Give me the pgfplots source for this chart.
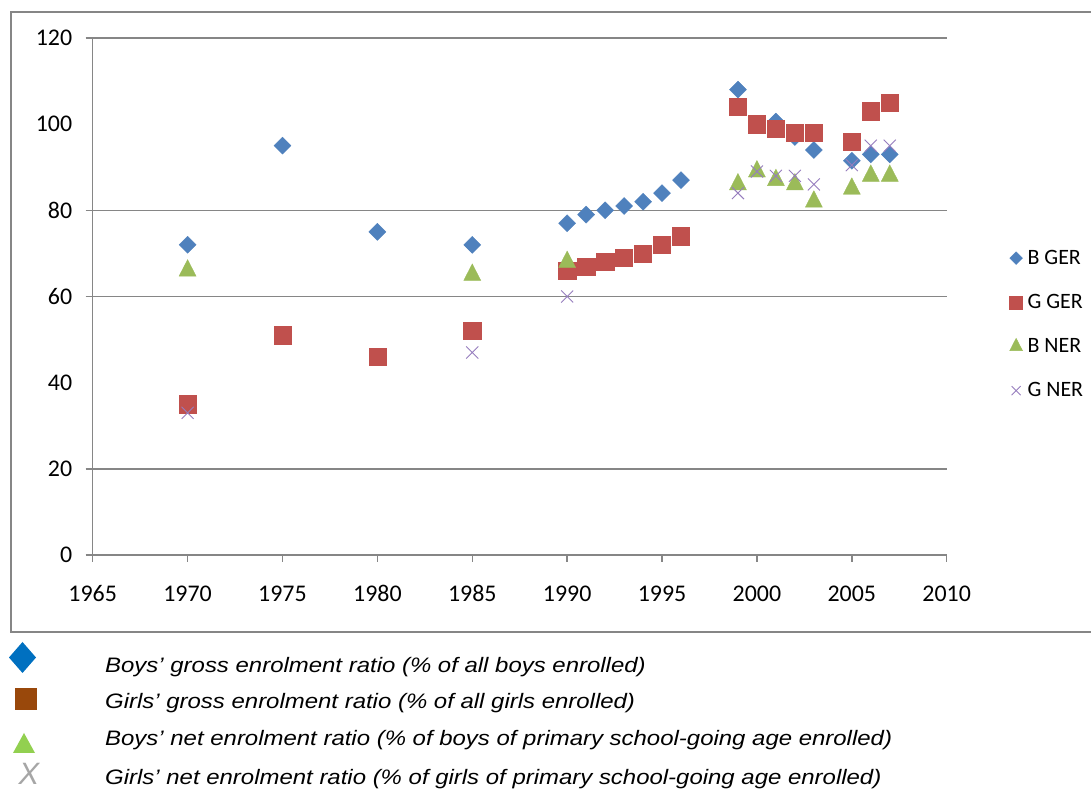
\documentclass[border=0pt]{standalone}
\usepackage{fontspec}
\setmainfont{Liberation Sans}
\newfontfamily\carlito{Carlito}
\newfontfamily\keyfont[FakeStretch=1.145]{Liberation Sans}
\usepackage{pgfplots}
\pgfplotsset{compat=1.18}

\definecolor{bger}{RGB}{79,129,189}
\definecolor{gger}{RGB}{192,80,77}
\definecolor{bner}{RGB}{155,187,89}
\definecolor{gner}{RGB}{150,125,190}
\definecolor{axgray}{RGB}{134,134,134}
\definecolor{kblue}{RGB}{0,112,192}
\definecolor{kbrown}{RGB}{153,72,11}
\definecolor{kgreen}{RGB}{146,208,80}
\definecolor{kgray}{RGB}{166,166,166}

\begin{document}
\begin{tikzpicture}[x=1bp,y=1bp]
\useasboundingbox (0,0) rectangle (1091,792);
\fill[white] (0,0) rectangle (1091,792);
\draw[axgray, line width=2bp] (11,780) rectangle (1100,160);
\begin{axis}[
  at={(92.7bp,237bp)}, anchor=south west,
  scale only axis, width=854bp, height=517bp,
  xmin=1965, xmax=2010, ymin=0, ymax=120,
  axis x line*=bottom, axis y line*=left,
  axis line style={axgray, line width=1.5bp, -},
  xtick={1965,1970,...,2010},
  ytick={0,20,60,80,120},
  extra y ticks={40,100},
  extra y tick style={grid=none, major tick style={draw=none}},
  ymajorgrids, grid style={axgray, line width=1.5bp},
  tick align=outside, major tick length=7bp,
  tick style={axgray, line width=1.5bp},
  scaled ticks=false,
  /pgf/number format/1000 sep={},
  /pgf/number format/assume math mode=true,
  tick label style={font=\carlito\fontsize{24}{28}\selectfont, black},
  xticklabel style={yshift=-20bp},
  yticklabel style={xshift=-10bp},
  legend style={draw=none, fill=none, at={(1.070,0.446)}, anchor=west,
    font=\carlito\fontsize{22}{26}\selectfont, row sep=24.5bp,
    nodes={inner xsep=5bp}},
  legend cell align=left,
  clip=false,
]
\addplot[only marks, mark=square*, mark size=6bp,
  mark options={rotate=45, fill=bger, draw=bger},
  legend image post style={scale=0.75}] table {
1970 72
1975 95
1980 75
1985 72
1990 77
1991 79
1992 80
1993 81
1994 82
1995 84
1996 87
1999 108
2000 100
2001 100.6
2002 97
2003 94
2005 91.5
2006 93
2007 93
};
\addlegendentry{B GER}
\addplot[only marks, mark=square*, mark size=8.6bp,
  mark options={fill=gger, draw=gger},
  legend image post style={scale=0.75}] table {
1970 35
1975 51
1980 46
1985 52
1990 66
1991 67
1992 68
1993 69
1994 70
1995 72
1996 74
1999 104
2000 100
2001 99
2002 98
2003 98
2005 96
2006 103
2007 105
};
\addlegendentry{G GER}
\addplot[only marks, mark=triangle*, mark size=9.8bp,
  mark options={fill=bner, draw=bner, yscale=1.12},
  legend image post style={scale=0.75}] table {
1970 66
1985 65
1990 68
1999 86
2000 89
2001 87
2002 86
2003 82
2005 85
2006 88
2007 88
};
\addlegendentry{B NER}
\addplot[only marks, mark=x, mark size=8.5bp,
  mark options={draw=gner, line width=0.9bp},
  legend image post style={scale=0.75}] table {
1970 33
1985 47
1990 60
1999 84
2000 89
2001 88
2002 88
2003 86
2005 90.5
2006 95
2007 95
};
\addlegendentry{G NER}
\end{axis}
% bottom key
\fill[kblue] (22.5,150) -- (36,134.5) -- (22.5,119) -- (9,134.5) -- cycle;
\fill[kbrown] (15,104) rectangle (37,82);
\fill[kgreen] (24,59) -- (35,39) -- (13,39) -- cycle;
\node[anchor=base, text=kgray, font=\fontsize{31}{35}\selectfont\itshape, inner sep=0] at (29,7) {X};
\begin{scope}[every node/.style={anchor=base west, inner sep=0, font=\keyfont\fontsize{21}{25}\selectfont\itshape}]
\node at (105,119) {Boys’ gross enrolment ratio (\% of all boys enrolled)};
\node at (105,83) {Girls’ gross enrolment ratio (\% of all girls enrolled)};
\node at (105,46) {Boys’ net enrolment ratio (\% of boys of primary school-going age enrolled)};
\node at (105,7) {Girls’ net enrolment ratio (\% of girls of primary school-going age enrolled)};
\end{scope}
\end{tikzpicture}
\end{document}
